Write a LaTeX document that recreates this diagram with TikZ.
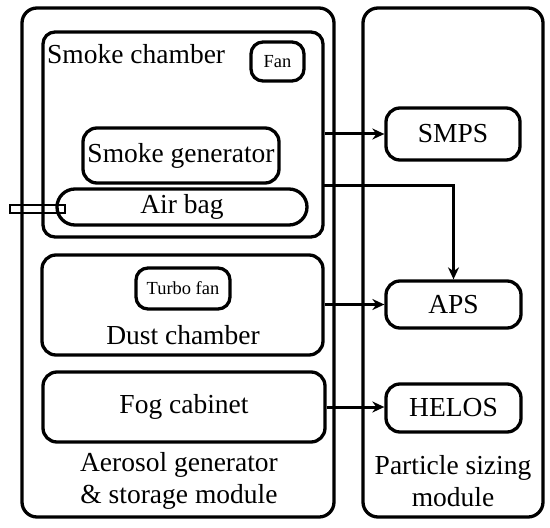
\documentclass[tikz,border=0pt]{standalone}
\usepackage{fontspec}
\setmainfont{Liberation Serif}
\usetikzlibrary{arrows.meta}
\tikzset{
  box/.style={draw=black, line width=3.3bp, rounded corners=14bp, inner sep=0pt, font=\fontsize{27.6}{32}\selectfont},
  smallbox/.style={box, rounded corners=12bp, font=\fontsize{18.5}{22}\selectfont},
  lbl/.style={inner sep=0pt, align=center, font=\fontsize{27.6}{32}\selectfont},
  arr/.style={line width=3bp, -{Stealth[length=12bp, width=11bp]}},
  conn/.style={line width=3bp}
}
\begin{document}
\begin{tikzpicture}[x=1bp, y=-1bp]
\useasboundingbox (0,0) rectangle (550,528);
% tube
\draw[line width=1.8bp, fill=white] (10,205.3) rectangle (65,212.7);
% modules
\node[box, rounded corners=15bp, minimum width=312bp, minimum height=509bp] (left) at (178,262.5) {};
\node[box, rounded corners=15bp, minimum width=180bp, minimum height=509bp] (right) at (453,262.5) {};
% smoke chamber
\node[box, rounded corners=12bp, minimum width=280bp, minimum height=205bp] (sc) at (183,134.5) {};
\node[lbl, anchor=west] (sclbl) at (47,54) {Smoke chamber};
\node[smallbox, minimum width=53bp, minimum height=39bp] (fan) at (277.5,61.5) {Fan};
\node[box, minimum width=196bp, minimum height=55bp] (sg) at (181,155.5) {Smoke generator};
\node[box, rounded corners=18bp, minimum width=250bp, minimum height=36bp] (bag) at (182,207) {Air bag};
% dust chamber
\node[box, minimum width=281bp, minimum height=100bp] (dust) at (182.5,305) {};
\node[smallbox, minimum width=94bp, minimum height=41bp] (turbo) at (183,288.5) {Turbo fan};
\node[lbl] (dustlbl) at (183,335) {Dust chamber};
% fog cabinet
\node[box, minimum width=282bp, minimum height=70bp] (fog) at (184,407) {Fog cabinet};
\node[lbl] (aero) at (179,481) {Aerosol generator\\\& storage module};
% instruments
\node[box, minimum width=134bp, minimum height=52bp] (smps) at (453,134) {SMPS};
\node[box, minimum width=135bp, minimum height=47bp] (aps) at (453.5,304.5) {APS};
\node[box, minimum width=135bp, minimum height=48bp] (helos) at (453.5,408) {HELOS};
\node[lbl] (part) at (453,481) {Particle sizing\\module};
% connectors
\draw[arr] (sc.east |- smps.west) -- (smps.west);
\coordinate (c1) at (323,186);
\draw[arr] (c1) -| (aps.north);
\draw[arr] (dust.east |- aps.west) -- (aps.west);
\draw[arr] (fog.east) -- (fog.east -| helos.west);
\end{tikzpicture}
\end{document}
